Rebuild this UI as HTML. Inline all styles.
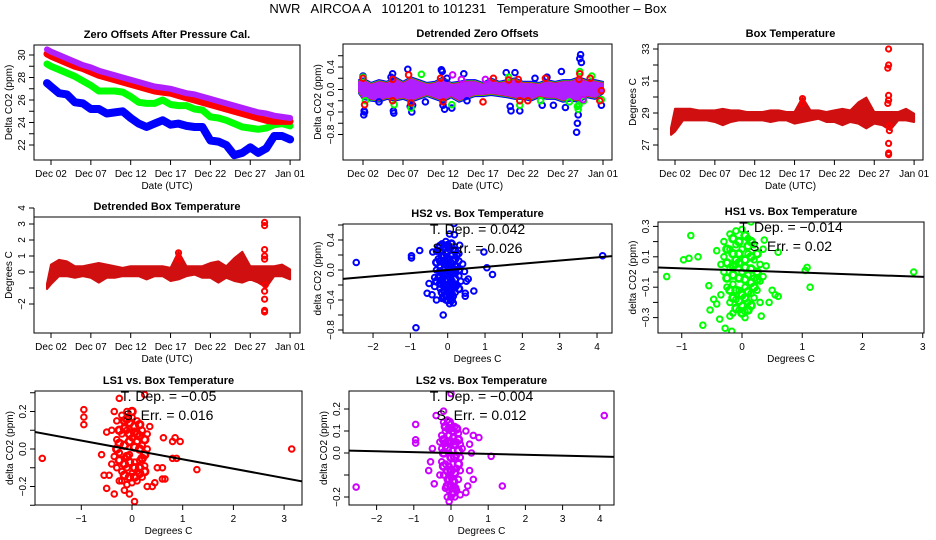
<!DOCTYPE html>
<html><head><meta charset="utf-8">
<style>
html,body{margin:0;padding:0;background:#fff;}
svg{display:block;font-family:"Liberation Sans",sans-serif;}
</style></head>
<body>
<svg id="fig" width="936" height="540" viewBox="0 0 936 540" xmlns="http://www.w3.org/2000/svg">
<text x="468" y="13" font-size="13" text-anchor="middle" style="white-space:pre" xml:space="preserve">NWR   AIRCOA A   101201 to 101231   Temperature Smoother – Box</text>
</svg>
<script>
// ---------- data ----------
const seriesDays = [1.5,2,3,4,5,6,7,8,9,10,11,12,13,14,15,16,17,18,19,20,21,22,23,24,25,26,27,28,29,30,31,32];
const dateTickDays = [2,7,12,17,22,27,32];
const dateTickLabels = ["Dec 02","Dec 07","Dec 12","Dec 17","Dec 22","Dec 27","Jan 01"];

const zeroPurple = [30.5,30.3,30.0,29.7,29.4,29.1,28.9,28.6,28.4,28.2,28.0,27.8,27.6,27.4,27.2,27.1,27.0,26.8,26.6,26.5,26.3,26.1,25.9,25.7,25.5,25.3,25.1,24.9,24.8,24.6,24.5,24.4];
const zeroRed = [30.1,29.9,29.6,29.3,29.0,28.8,28.5,28.2,28.0,27.8,27.6,27.4,27.2,27.0,26.8,26.7,26.6,26.4,26.2,26.0,25.8,25.6,25.4,25.2,25.0,24.8,24.6,24.4,24.2,24.1,24.1,24.1];
const zeroGreen = [29.2,29.0,28.7,28.4,28.1,27.7,27.3,26.8,26.8,26.8,26.7,26.3,25.8,25.7,25.7,26.0,25.6,25.5,25.5,25.2,25.1,24.5,24.4,24.2,23.9,23.6,23.5,23.4,23.5,23.8,23.9,23.7];
const zeroBlue = [27.5,27.2,26.6,26.5,25.8,25.7,25.2,25.2,24.8,24.9,25.0,24.4,23.9,23.6,23.9,24.2,23.8,23.9,23.7,23.6,23.6,22.4,22.3,22.0,21.1,21.3,21.8,21.3,21.7,22.8,22.8,22.5];

const detrUp = [0.15,0.18,0.1,0.15,0.12,0.2,0.12,0.2,0.15,0.1,0.12,0.2,0.1,0.12,0.15,0.15,0.1,0.18,0.12,0.15,0.18,0.12,0.12,0.1,0.15,0.12,0.15,0.15,0.2,0.15,0.15,0.12];
const detrLo = [-0.05,-0.15,-0.18,-0.2,-0.15,-0.18,-0.15,-0.2,-0.15,-0.1,-0.15,-0.2,-0.12,-0.2,-0.15,-0.1,-0.1,-0.08,-0.1,-0.12,-0.15,-0.15,-0.18,-0.12,-0.15,-0.15,-0.2,-0.18,-0.2,-0.12,-0.15,-0.05];
const detrBlue = [[2.1,-0.45],[2.2,-0.4],[2.15,-0.38],[5.7,0.28],[5.8,-0.38],[5.85,-0.42],[7.6,0.36],[7.9,-0.3],[8.1,-0.4],[11.8,0.35],[11.9,0.32],[12.0,-0.28],[12.2,-0.35],[13.1,-0.33],[14.6,0.28],[19.9,0.3],[20.4,-0.3],[20.5,-0.38],[21.0,0.3],[21.6,-0.38],[23.5,0.2],[24.4,-0.28],[25.8,-0.28],[26.8,0.32],[27.3,-0.32],[28.9,-0.45],[28.8,-0.6],[28.7,-0.76],[29.2,0.62],[29.1,0.55],[29.3,0.48],[31.8,-0.28],[8.2,-0.28],[4.0,-0.22],[9.8,-0.22],[15.0,-0.2],[2.0,0.24],[5.5,0.22],[12.5,0.2],[25,0.22]];
const detrGreen = [[2,0.22],[2.3,-0.2],[5.9,-0.27],[8.0,-0.33],[9.3,0.27],[13.1,-0.27],[20.2,0.22],[21.6,-0.28],[24.2,-0.2],[27.8,-0.22],[28.8,-0.3],[28.9,-0.35],[29.1,0.32],[29.6,-0.2],[30.6,0.24],[31.8,-0.18],[29.0,-0.28]];
const detrRed = [[2.0,0.2],[2.2,-0.27],[5.7,0.18],[5.7,-0.2],[7.7,0.26],[8.0,-0.24],[11.7,0.2],[12.0,-0.22],[17.0,-0.22],[18.3,0.2],[20.2,0.17],[21.4,0.18],[21.6,-0.2],[22.6,-0.2],[24.8,0.2],[29.1,0.28],[29.0,0.18],[30.4,0.2],[31.8,-0.02],[31.6,-0.2]];
const detrPurple = [[13.2,0.26],[14.3,0.18],[17.3,0.18],[29.5,-0.18]];

const boxUp = [28.0,29.2,29.2,29.2,29.1,29.1,29.1,29.2,29.1,29.1,29.0,29.0,29.0,29.1,29.1,29.0,29.0,29.9,29.1,29.1,29.0,29.1,29.2,29.1,29.6,29.9,29.0,29.0,29.0,29.0,29.2,28.9];
const boxLo = [27.7,27.9,28.6,28.6,28.6,28.6,28.5,28.3,28.5,28.6,28.6,28.6,28.6,28.5,28.6,28.6,28.4,28.5,28.6,28.7,28.5,28.5,28.3,28.5,28.4,28.1,28.4,28.3,28.0,28.6,28.6,28.5];
const boxSpikes = [[28.8,33.0],[28.8,32.0],[28.7,31.8],[28.8,30.1],[28.8,29.8],[28.7,29.6],[28.9,27.9],[28.8,27.1],[28.8,26.4],[28.8,26.5],[28.9,28.2],[18.0,29.9],[18.0,29.6]];

const dboxUp = [-0.8,0.4,0.7,0.6,0.3,0.3,0.4,0.5,0.4,0.3,0.2,0.3,0.3,0.3,0.3,0.3,0.2,1.2,0.3,0.3,0.3,0.5,0.6,0.3,0.8,1.2,0.3,0.3,0.3,0.3,0.4,0.1];
const dboxLo = [-1.0,-0.7,-0.2,-0.2,-0.3,-0.2,-0.3,-0.6,-0.3,-0.3,-0.2,-0.2,-0.2,-0.4,-0.2,-0.2,-0.5,-0.4,-0.2,-0.1,-0.3,-0.3,-0.6,-0.3,-0.5,-0.6,-0.4,-0.6,-0.9,-0.2,-0.2,-0.4];
const dboxSpikes = [[28.8,4.2],[28.8,3.1],[28.8,2.9],[28.8,1.4],[28.8,1.0],[28.8,0.8],[28.8,-1.2],[28.8,-1.7],[28.8,-2.4],[28.8,-2.5],[28.9,-0.8],[18,1.2],[18,0.8]];

const hs2Points = [[-2.45,0.10],[-0.97,0.19],[-0.97,0.16],[-0.75,0.26],[-0.4,0.24],[-0.85,-0.77],[-0.12,-0.60],[0.17,0.62],[0.05,0.48],[0.18,0.47],[0.32,0.33],[0.97,0.24],[1.05,0.03],[1.2,-0.06],[0.7,-0.28],[0.47,-0.31],[0.47,-0.35],[4.15,0.19],[-0.5,-0.18],[-0.55,-0.31],[-0.42,-0.33],[-0.3,-0.40],[0.15,-0.44],[0.05,-0.45],[0.5,-0.15],[0.55,-0.12],[0.45,-0.02],[0.3,0.22],[-0.35,-0.1],[0.4,0.08],
[-0.25,0.3],[-0.15,0.35],[-0.05,0.38],[0.05,0.3],[0.15,0.28],[0.25,0.2],[-0.25,0.15],[-0.15,0.2],[-0.05,0.22],[0.05,0.15],[0.15,0.12],[0.25,0.05],[-0.3,0.0],[-0.2,0.05],[-0.1,0.08],[0.0,0.0],[0.1,0.02],[0.2,-0.05],[0.3,-0.08],[-0.25,-0.1],[-0.15,-0.12],[-0.05,-0.15],[0.05,-0.1],[0.15,-0.18],[0.25,-0.2],[-0.2,-0.25],[-0.1,-0.28],[0.0,-0.3],[0.1,-0.25],[0.2,-0.3],[-0.15,-0.38],[-0.05,-0.4],[0.05,-0.36],[0.15,-0.35],[-0.3,0.25],[0.3,0.12],[-0.35,-0.22],[0.35,-0.15]];
const hs2Core = [[-0.2,0.32],[-0.1,0.3],[0.0,0.33],[0.1,0.35],[0.2,0.25],[-0.2,0.25],[-0.1,0.18],[0.0,0.25],[0.1,0.2],[0.2,0.15],[-0.2,0.12],[-0.1,0.12],[0.0,0.1],[0.1,0.08],[0.2,0.05],[-0.2,-0.02],[-0.1,0.0],[0.0,-0.05],[0.1,-0.05],[0.2,0.0],[-0.2,-0.08],[-0.1,-0.06],[0.0,-0.12],[0.1,-0.15],[0.2,-0.12],[-0.2,-0.18],[-0.1,-0.2],[0.0,-0.22],[0.1,-0.2],[0.2,-0.22],[-0.15,-0.3],[-0.05,-0.33],[0.05,-0.28],[0.1,-0.32],[-0.1,-0.36],[0.0,-0.4],[0.1,-0.4],[-0.3,0.1],[0.3,0.0],[-0.3,-0.15],[0.3,-0.25]];
const hs1Points = [[-1.25,-0.03],[-0.85,0.24],[-0.97,0.08],[-0.88,0.09],[-0.73,0.10],[-0.42,0.14],[-0.65,-0.35],[-0.28,-0.37],[-0.17,-0.39],[0.15,0.33],[0.37,0.21],[0.35,0.15],[0.6,0.13],[1.05,0.01],[1.08,0.03],[1.13,-0.1],[2.85,0.0],[-0.55,-0.09],[-0.53,-0.25],[-0.47,-0.18],[-0.42,-0.21],[-0.37,-0.31],[-0.2,-0.29],[0.05,-0.3],[0.32,-0.29],[0.5,-0.12],[0.55,-0.15],[0.6,-0.16],[0.4,0.04],[0.45,-0.2],
[-0.3,0.2],[-0.2,0.25],[-0.1,0.27],[0.0,0.28],[0.1,0.22],[0.2,0.18],[-0.3,0.1],[-0.2,0.15],[-0.1,0.18],[0.0,0.15],[0.1,0.12],[0.2,0.08],[0.3,0.05],[-0.3,0.0],[-0.2,0.03],[-0.1,0.05],[0.0,0.0],[0.1,-0.02],[0.2,-0.04],[0.3,-0.06],[-0.25,-0.1],[-0.15,-0.08],[-0.05,-0.12],[0.05,-0.1],[0.15,-0.14],[0.25,-0.12],[-0.2,-0.2],[-0.1,-0.18],[0.0,-0.22],[0.1,-0.2],[0.2,-0.17],[-0.15,-0.27],[-0.05,-0.25],[0.05,-0.26],[-0.35,0.05],[0.35,-0.03],[-0.35,-0.15],[0.3,-0.2]];
const hs1Core = [[-0.15,0.22],[-0.05,0.2],[0.05,0.24],[0.15,0.2],[-0.25,0.15],[-0.15,0.12],[-0.05,0.12],[0.05,0.08],[0.15,0.1],[0.25,0.12],[-0.25,0.06],[-0.15,0.04],[-0.05,0.06],[0.05,0.03],[0.15,0.02],[0.25,0.0],[-0.25,-0.04],[-0.15,-0.02],[-0.05,-0.04],[0.05,-0.05],[0.15,-0.07],[0.25,-0.05],[-0.2,-0.12],[-0.1,-0.12],[0.0,-0.15],[0.1,-0.13],[0.2,-0.1],[-0.15,-0.17],[-0.05,-0.19],[0.05,-0.17],[0.15,-0.22],[-0.1,-0.24],[0.0,-0.27],[0.1,-0.25],[-0.1,0.08],[0.1,0.17]];
const ls1Points = [[-1.77,-0.05],[-0.95,0.21],[-0.95,0.17],[-0.95,0.13],[-0.35,0.2],[-0.25,0.27],[0.25,0.29],[0.35,0.12],[0.62,0.06],[0.8,0.04],[0.85,0.06],[0.95,0.04],[0.8,-0.05],[0.88,-0.05],[1.28,-0.11],[3.15,0.0],[-0.55,-0.14],[-0.5,-0.21],[-0.45,-0.14],[-0.35,-0.24],[-0.25,-0.17],[-0.15,-0.22],[-0.05,-0.24],[0.05,-0.28],[0.3,-0.2],[0.4,-0.2],[0.45,-0.18],[0.6,-0.1],[0.6,-0.16],[0.65,-0.16],[0.5,-0.1],[-0.6,-0.03],[-0.5,0.09],
[-0.3,0.15],[-0.2,0.18],[-0.1,0.2],[0.0,0.17],[0.1,0.15],[0.2,0.1],[-0.3,0.05],[-0.2,0.08],[-0.1,0.1],[0.0,0.06],[0.1,0.04],[0.2,0.02],[0.3,0.0],[-0.35,-0.04],[-0.25,-0.02],[-0.15,-0.05],[-0.05,-0.03],[0.05,-0.07],[0.15,-0.06],[0.25,-0.09],[-0.3,-0.1],[-0.2,-0.12],[-0.1,-0.1],[0.0,-0.13],[0.1,-0.12],[0.2,-0.15],[-0.2,-0.17],[-0.1,-0.19],[0.0,-0.18],[0.1,-0.17],[-0.4,0.1],[0.3,0.08],[-0.4,-0.08]];
const ls1Core = [[-0.15,0.15],[-0.05,0.14],[0.05,0.12],[0.15,0.13],[-0.25,0.1],[-0.15,0.11],[-0.05,0.08],[0.05,0.09],[0.15,0.07],[0.25,0.05],[-0.25,0.03],[-0.15,0.02],[-0.05,0.04],[0.05,0.01],[0.15,0.0],[0.25,-0.03],[-0.25,-0.06],[-0.15,-0.08],[-0.05,-0.07],[0.05,-0.1],[0.15,-0.1],[0.25,-0.12],[-0.15,-0.14],[-0.05,-0.15],[0.05,-0.15],[0.15,-0.13],[-0.1,0.16],[0.0,0.2],[0.1,0.08],[-0.3,0.0],[0.2,-0.05],[-0.1,-0.04]];
const ls2Points = [[-2.55,-0.155],[-0.95,0.13],[-0.95,0.06],[-0.95,0.045],[-0.55,-0.04],[-0.6,-0.08],[-0.45,-0.14],[0.0,0.27],[-0.2,0.19],[-0.4,0.17],[0.6,0.08],[0.75,0.07],[0.5,0.04],[0.55,0.0],[1.08,-0.015],[1.38,-0.15],[4.12,0.17],[0.5,-0.08],[0.6,-0.12],[0.45,-0.15],[0.4,-0.18],[-0.05,-0.22],[0.1,-0.2],[0.25,-0.19],[-0.5,0.02],[0.4,0.1],
[-0.2,0.14],[-0.1,0.15],[0.0,0.13],[0.1,0.12],[0.2,0.09],[-0.25,0.08],[-0.15,0.1],[-0.05,0.08],[0.05,0.07],[0.15,0.05],[0.25,0.04],[-0.25,0.02],[-0.15,0.03],[-0.05,0.0],[0.05,0.01],[0.15,-0.01],[0.25,-0.02],[-0.25,-0.04],[-0.15,-0.05],[-0.05,-0.06],[0.05,-0.05],[0.15,-0.07],[0.25,-0.08],[-0.3,-0.1],[-0.2,-0.1],[-0.1,-0.12],[0.0,-0.11],[0.1,-0.13],[0.2,-0.12],[-0.15,-0.16],[-0.05,-0.17],[0.05,-0.16],[0.15,-0.17],[-0.1,-0.2],[0.0,-0.2],[0.3,0.02],[-0.3,0.05]];
const ls2Core = [[-0.15,0.12],[-0.05,0.11],[0.05,0.1],[0.15,0.11],[-0.2,0.06],[-0.1,0.05],[0.0,0.05],[0.1,0.04],[0.2,0.06],[-0.2,0.0],[-0.1,0.02],[0.0,-0.02],[0.1,-0.02],[0.2,0.01],[-0.2,-0.06],[-0.1,-0.08],[0.0,-0.08],[0.1,-0.09],[0.2,-0.05],[-0.1,-0.15],[0.0,-0.15],[0.1,-0.16],[-0.05,-0.12],[0.05,-0.13],[-0.05,0.14],[0.05,-0.18]];

const fitHS2 = [0.0, 0.042];
const fitHS1 = [0.01, -0.014];
const fitLS1 = [-0.005, -0.05];
const fitLS2 = [0.0, -0.004];
const annHS2 = ["T. Dep. =  0.042","S. Err. =  0.026"];
const annHS1 = ["T. Dep. =  \u22120.014","S. Err. =  0.02"];
const annLS1 = ["T. Dep. =  \u22120.05","S. Err. =  0.016"];
const annLS2 = ["T. Dep. =  \u22120.004","S. Err. =  0.012"];

const PURPLE = '#b020ff';
const REDBAND = '#d01010';

// ---------- drawing ----------
const svg = document.getElementById('fig');
const NS = 'http://www.w3.org/2000/svg';
function mk(tag, attrs, parent){ const e=document.createElementNS(NS,tag); for(const k in attrs) e.setAttribute(k,attrs[k]); (parent||svg).appendChild(e); return e; }
function fmt(v){ let s = (Math.abs(v)<1e-9)?'0':String(+v.toFixed(2)); if(s.indexOf('.')<0 && arguments[1]) s=s+'.0'; return s.replace('-','\u2212'); }

function panel(p){
  const g = mk('g',{});
  
  
  const [L,T,R,B] = p.box;
  const fx = v => p.x0 + (v - p.xo) * p.xs;
  const fy = v => p.y0 - (v - p.yo) * p.ys;
  const clipId = 'c'+p.name;
  const cp = mk('clipPath',{id:clipId},g); mk('rect',{x:L,y:T,width:R-L,height:B-T},cp);
  const plot = mk('g',{'clip-path':'url(#'+clipId+')'},g);
  
  
  p.draw(plot, fx, fy);
  const frame = mk('rect',{x:L,y:T,width:R-L,height:B-T,fill:'none',stroke:'#000','stroke-width':1},g);
  
  
  const xa = mk('g',{},g);
  
  
  const xp = p.xticks.map(fx);
  mk('line',{x1:xp[0],x2:xp[xp.length-1],y1:B,y2:B,stroke:'#000'},xa);
  p.xticks.forEach((t,i)=>{
    mk('line',{x1:xp[i],x2:xp[i],y1:B,y2:B+5,stroke:'#000'},xa);
    if(p.xlabels[i]!==''){ const tx=mk('text',{x:xp[i],y:B+17,'font-size':10,'text-anchor':'middle'},xa); tx.textContent=p.xlabels[i]; }
  });
  const xt = mk('text',{x:(L+R)/2,y:B+29,'font-size':10,'text-anchor':'middle'},g);
  
  
  xt.textContent = p.xtitle;
  const ya = mk('g',{},g);
  
  
  const yp = p.yticks.map(fy);
  mk('line',{x1:L,x2:L,y1:yp[0],y2:yp[yp.length-1],stroke:'#000'},ya);
  p.yticks.forEach((t,i)=>{
    mk('line',{x1:L-5,x2:L,y1:yp[i],y2:yp[i],stroke:'#000'},ya);
    if(p.ylabels[i]!==''){ const tx=mk('text',{x:L-9,y:yp[i],'font-size':10,'text-anchor':'middle',transform:'rotate(-90 '+(L-9)+' '+yp[i]+')'},ya); tx.textContent=p.ylabels[i]; }
  });
  const yt = mk('text',{x:L-22,y:(T+B)/2,'font-size':10,'text-anchor':'middle',transform:'rotate(-90 '+(L-22)+' '+((T+B)/2)+')'},g);
  
  
  yt.textContent = p.ytitle;
  const tt = mk('text',{x:(L+R)/2,y:T-7,'font-size':11,'font-weight':'bold','text-anchor':'middle'},g);
  
  
  tt.textContent = p.title;
  if(p.ann){
    p.ann.forEach((s,i)=>{
      const a = mk('text',{x:(L+R)/2,y:T+10+i*19,'font-size':14,'text-anchor':'middle'},g);
      
      
      a.textContent = s;
    });
  }
}
function pts(parent, arr, fx, fy, col, r, name, sw){
  arr.forEach(d=>{
    const c = mk('circle',{cx:fx(d[0]),cy:fy(d[1]),r:r||2.6,fill:'none',stroke:col,'stroke-width':sw||2},parent);
    
    
  });
}
function line(parent, xs, ys, fx, fy, col, w, name){
  const d = xs.map((x,i)=>(i?'L':'M')+fx(x).toFixed(1)+' '+fy(ys[i]).toFixed(1)).join(' ');
  const p = mk('path',{d:d,fill:'none',stroke:col,'stroke-width':w,'stroke-linejoin':'round','stroke-linecap':'round'},parent);
  
  
}
function band(parent, xs, up, lo, fx, fy, fill, name){
  let d = xs.map((x,i)=>(i?'L':'M')+fx(x).toFixed(1)+' '+(fy(up[i])-1).toFixed(1)).join(' ');
  for(let i=xs.length-1;i>=0;i--) d += ' L'+fx(xs[i]).toFixed(1)+' '+(fy(lo[i])+1).toFixed(1);
  const p = mk('path',{d:d+' Z',fill:fill,stroke:fill,'stroke-width':2,'stroke-linejoin':'round'},parent);
  
  
}
function fit(parent, f, xmin, xmax, fx, fy, name){
  const l = mk('line',{x1:fx(xmin),y1:fy(f[0]+f[1]*xmin),x2:fx(xmax),y2:fy(f[0]+f[1]*xmax),stroke:'#000','stroke-width':2},parent);
  
  
}
function rng(a,b,s){ const r=[]; for(let v=a; v<=b+1e-9; v+=s) r.push(+v.toFixed(4)); return r; }

panel({name:'zero-offsets-panel',box:[34,45,300,160],x0:51,xo:2,xs:7.97,y0:55,yo:30,ys:11.25,
  xticks:dateTickDays,xlabels:dateTickLabels,yticks:rng(22,30,1),ylabels:rng(22,30,1).map(v=>v%2===0?String(v):''),
  xtitle:'Date (UTC)',ytitle:'Delta CO2 (ppm)',title:'Zero Offsets After Pressure Cal.',
  draw:(g,fx,fy)=>{
    line(g,seriesDays,zeroBlue,fx,fy,'#0000ff',8,'series-hs2');
    line(g,seriesDays,zeroGreen,fx,fy,'#00ff00',7,'series-hs1');
    line(g,seriesDays,zeroRed,fx,fy,'#ff0000',7,'series-ls1');
    line(g,seriesDays,zeroPurple,fx,fy,PURPLE,6,'series-ls2');
  }});
panel({name:'detrended-zero-panel',box:[343,44,612,160],x0:363,xo:2,xs:8,y0:89.5,yo:0,ys:56.25,
  xticks:dateTickDays,xlabels:dateTickLabels,yticks:rng(-0.8,0.6,0.2),ylabels:rng(-0.8,0.6,0.2).map((v,i)=>i%2===0?fmt(v,1):''),
  xtitle:'Date (UTC)',ytitle:'Delta CO2 (ppm)',title:'Detrended Zero Offsets',
  draw:(g,fx,fy)=>{
    band(g,seriesDays,detrUp,detrLo,fx,fy,'#0000ff','band-hs2');
    band(g,seriesDays,detrUp.map(v=>v-0.02),detrLo.map(v=>v+0.02),fx,fy,'#00ff00','band-hs1');
    band(g,seriesDays,detrUp.map(v=>v-0.03),detrLo.map(v=>v+0.03),fx,fy,'#ff0000','band-ls1');
    band(g,seriesDays,detrUp.map(v=>v-0.04),detrLo.map(v=>v+0.04),fx,fy,PURPLE,'band-ls2');
    pts(g,detrBlue,fx,fy,'#0000ff',2.8,'outlier-hs2');
    pts(g,detrGreen,fx,fy,'#00ff00',2.8,'outlier-hs1');
    pts(g,detrRed,fx,fy,'#ff0000',2.8,'outlier-ls1');
    pts(g,detrPurple,fx,fy,'#cc00ff',2.8,'outlier-ls2');
  }});
panel({name:'box-temperature-panel',box:[658,44,923,160],x0:675,xo:2,xs:7.97,y0:113,yo:29,ys:16,
  xticks:dateTickDays,xlabels:dateTickLabels,yticks:rng(27,33,1),ylabels:rng(27,33,1).map(v=>v%2===1?String(v):''),
  xtitle:'Date (UTC)',ytitle:'Degrees C',title:'Box Temperature',
  draw:(g,fx,fy)=>{
    band(g,seriesDays,boxUp,boxLo,fx,fy,REDBAND,'box-temp-band');
    pts(g,boxSpikes,fx,fy,'#ff0000',2.6,'box-temp-spike');
  }});
panel({name:'detrended-box-temp-panel',box:[34,217,300,333],x0:51,xo:2,xs:7.97,y0:272,yo:0,ys:16,
  xticks:dateTickDays,xlabels:dateTickLabels,yticks:rng(-2,4,1),ylabels:rng(-2,4,1).map(v=>v===-1?'':fmt(v)),
  xtitle:'Date (UTC)',ytitle:'Degrees C',title:'Detrended Box Temperature',
  draw:(g,fx,fy)=>{
    band(g,seriesDays,dboxUp,dboxLo,fx,fy,REDBAND,'detrended-temp-band');
    pts(g,dboxSpikes,fx,fy,'#ff0000',2.6,'detrended-temp-spike');
  }});
panel({name:'hs2-vs-temp-panel',box:[343,224,612,333],x0:447.7,xo:0,xs:37.33,y0:270,yo:0,ys:75,
  xticks:rng(-2,4,1),xlabels:rng(-2,4,1).map(v=>fmt(v)),yticks:rng(-0.8,0.6,0.2),ylabels:rng(-0.8,0.6,0.2).map((v,i)=>i%2===0?fmt(v,1):''),
  xtitle:'Degrees C',ytitle:'delta CO2 (ppm)',title:'HS2 vs. Box Temperature',ann:annHS2,
  draw:(g,fx,fy)=>{
    pts(g,hs2Points,fx,fy,'#0000ff',2.8,'hs2-point');
    pts(g,hs2Core,fx,fy,'#0000ff',3.2,'hs2-point',2.6);
    fit(g,fitHS2,-2.8,4.4,fx,fy,'hs2-fit-line');
  }});
panel({name:'hs1-vs-temp-panel',box:[658,222,924,333],x0:742,xo:0,xs:60.25,y0:272,yo:0,ys:152,
  xticks:rng(-1,3,1),xlabels:rng(-1,3,1).map(v=>fmt(v)),yticks:rng(-0.3,0.3,0.1),ylabels:rng(-0.3,0.3,0.1).map((v,i)=>i%2===0?fmt(v):''),
  xtitle:'Degrees C',ytitle:'delta CO2 (ppm)',title:'HS1 vs. Box Temperature',ann:annHS1,
  draw:(g,fx,fy)=>{
    pts(g,hs1Points,fx,fy,'#00ff00',2.8,'hs1-point');
    pts(g,hs1Core,fx,fy,'#00ff00',3.4,'hs1-point',2.8);
    fit(g,fitHS1,-1.5,3.1,fx,fy,'hs1-fit-line');
  }});
panel({name:'ls1-vs-temp-panel',box:[35,391,302,505],x0:132,xo:0,xs:50.7,y0:449,yo:0,ys:187.5,
  xticks:rng(-1,3,1),xlabels:rng(-1,3,1).map(v=>fmt(v)),yticks:rng(-0.3,0.3,0.1),ylabels:rng(-0.3,0.3,0.1).map(v=>Math.abs(Math.round(v*10))%2===0?fmt(v,1):''),
  xtitle:'Degrees C',ytitle:'delta CO2 (ppm)',title:'LS1 vs. Box Temperature',ann:annLS1,
  draw:(g,fx,fy)=>{
    pts(g,ls1Points,fx,fy,'#ff0000',2.8,'ls1-point');
    pts(g,ls1Core,fx,fy,'#ff0000',3.4,'ls1-point',2.8);
    fit(g,fitLS1,-2.0,3.4,fx,fy,'ls1-fit-line');
  }});
panel({name:'ls2-vs-temp-panel',box:[349,391,614,505],x0:451,xo:0,xs:37.2,y0:453,yo:0,ys:220,
  xticks:rng(-2,4,1),xlabels:rng(-2,4,1).map(v=>fmt(v)),yticks:rng(-0.2,0.2,0.1),ylabels:rng(-0.2,0.2,0.1).map(v=>Math.abs(v+0.1)<1e-6?'':fmt(v,1)),
  xtitle:'Degrees C',ytitle:'delta CO2 (ppm)',title:'LS2 vs. Box Temperature',ann:annLS2,
  draw:(g,fx,fy)=>{
    pts(g,ls2Points,fx,fy,'#cc00ff',2.8,'ls2-point');
    pts(g,ls2Core,fx,fy,'#cc00ff',3.4,'ls2-point',2.8);
    fit(g,fitLS2,-2.9,4.4,fx,fy,'ls2-fit-line');
  }});
</script>
</body></html>
